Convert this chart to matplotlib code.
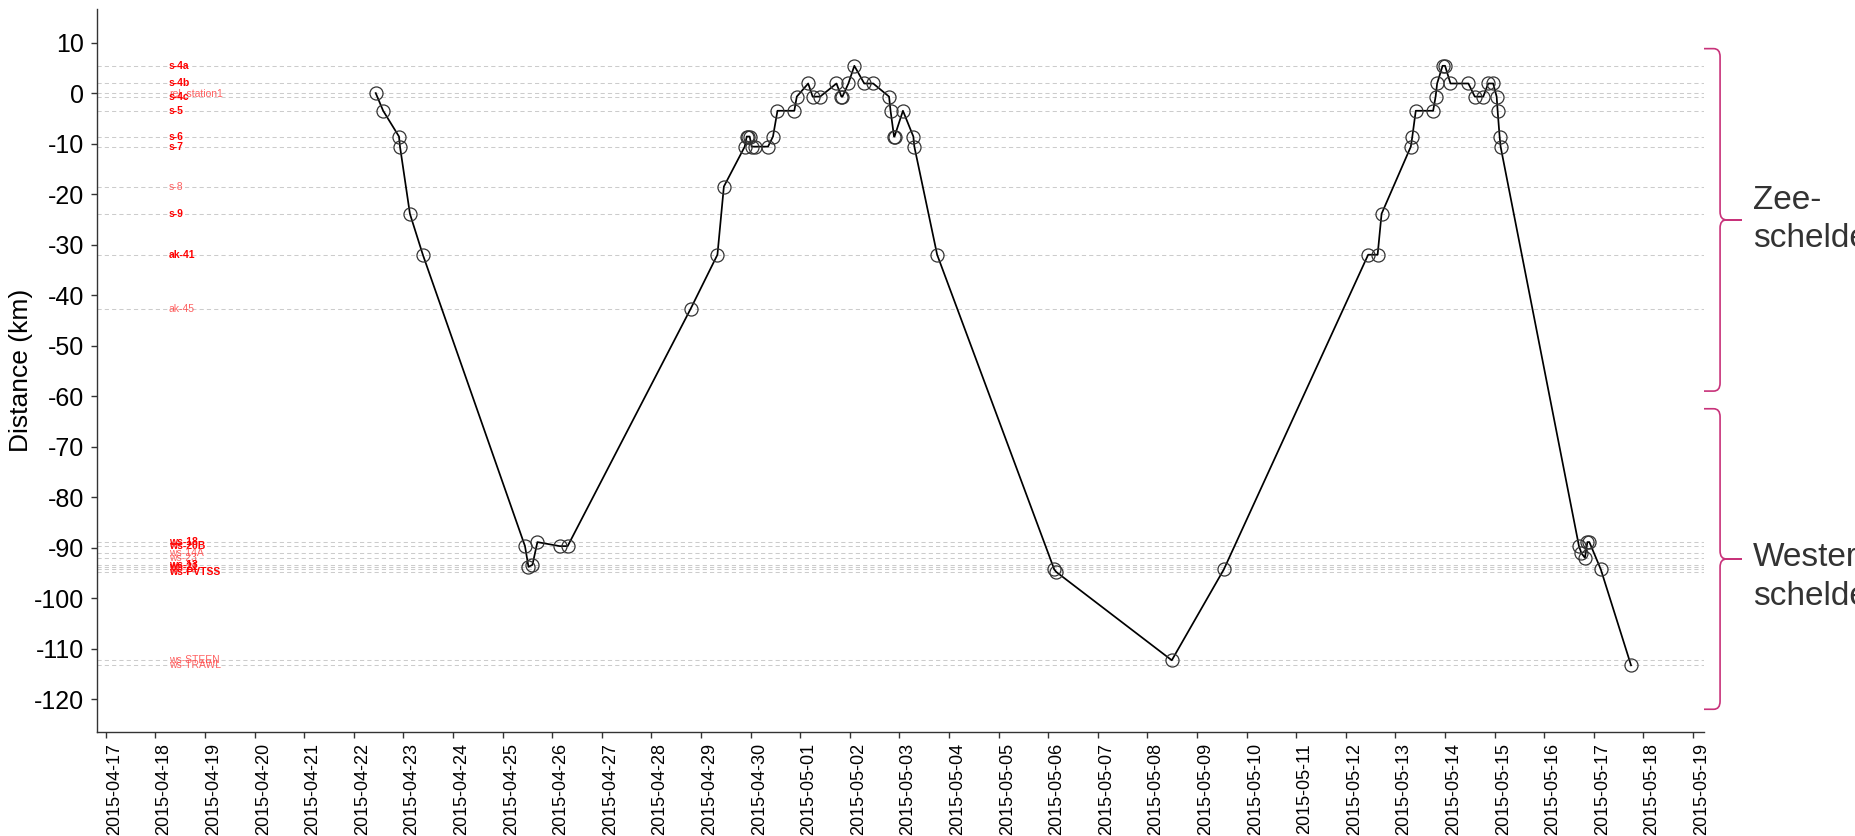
import numpy as np
import pandas as pd
import matplotlib
matplotlib.use('Agg')
from matplotlib import pyplot as plt
import matplotlib.dates as mdates
from matplotlib.path import Path
from matplotlib.patches import PathPatch
from matplotlib import transforms

plt.rcParams['font.family'] = ['Liberation Sans', 'DejaVu Sans']
plt.rcParams['axes.unicode_minus'] = False

# receiver stations and their distance (km) along the river
stations = ['s-4a', 's-4b', 'rel_station1', 's-4c', 's-5', 's-6', 's-7', 's-8', 's-9',
            'ak-41', 'ak-45', 'ws-18', 'ws-20B', 'ws-14A', 'ws-23', 'ws-13', 'ws-21',
            'ws-22', 'ws-PVTSS', 'ws-STEEN', 'ws-TRAWL']
station_km = [5.4, 1.9, 0.0, -0.7, -3.5, -8.6, -10.6, -18.5, -23.9,
              -32.0, -42.7, -88.9, -89.7, -91.1, -92.0, -93.4, -93.8,
              -94.3, -94.8, -112.3, -113.3]
# stations with few detections (label drawn lighter)
faint = ['rel_station1', 's-8', 'ak-45', 'ws-14A', 'ws-23', 'ws-22', 'ws-STEEN', 'ws-TRAWL']
label_time = '2015-04-18 06:30'

# detections of the tagged fish
det_time = ['2015-04-22 10:34', '2015-04-22 14:10', '2015-04-22 21:50', '2015-04-22 22:19',
            '2015-04-23 03:07', '2015-04-23 09:22', '2015-04-25 10:48', '2015-04-25 12:29',
            '2015-04-25 14:24', '2015-04-25 16:48', '2015-04-26 03:36', '2015-04-26 07:26',
            '2015-04-28 18:58', '2015-04-29 07:55', '2015-04-29 11:02', '2015-04-29 21:07',
            '2015-04-29 22:05', '2015-04-29 22:50', '2015-04-29 23:31', '2015-04-30 00:29',
            '2015-04-30 01:55', '2015-04-30 08:24', '2015-04-30 10:48', '2015-04-30 12:58',
            '2015-04-30 21:07', '2015-04-30 22:19', '2015-05-01 03:50', '2015-05-01 06:00',
            '2015-05-01 09:36', '2015-05-01 17:31', '2015-05-01 19:55', '2015-05-01 20:24',
            '2015-05-01 23:17', '2015-05-02 02:10', '2015-05-02 06:58', '2015-05-02 11:17',
            '2015-05-02 18:58', '2015-05-02 19:41', '2015-05-02 21:22', '2015-05-02 21:36',
            '2015-05-03 01:41', '2015-05-03 06:43', '2015-05-03 07:12', '2015-05-03 18:14',
            '2015-05-06 02:53', '2015-05-06 03:50', '2015-05-08 11:46', '2015-05-09 12:58',
            '2015-05-12 10:48', '2015-05-12 15:22', '2015-05-12 17:17', '2015-05-13 07:26',
            '2015-05-13 08:10', '2015-05-13 09:50', '2015-05-13 18:14', '2015-05-13 19:26',
            '2015-05-13 20:10', '2015-05-13 22:48', '2015-05-14 00:00', '2015-05-14 02:38',
            '2015-05-14 11:17', '2015-05-14 14:24', '2015-05-14 18:29', '2015-05-14 20:53',
            '2015-05-14 23:17', '2015-05-15 00:58', '2015-05-15 01:26', '2015-05-15 02:24',
            '2015-05-15 02:53', '2015-05-16 16:48', '2015-05-16 18:00', '2015-05-16 19:41',
            '2015-05-16 20:53', '2015-05-16 21:50', '2015-05-17 03:22', '2015-05-17 18:00']
det_km = [0.0, -3.5, -8.6, -10.6,
          -23.9, -32.0, -89.7, -93.8,
          -93.4, -88.9, -89.7, -89.7,
          -42.7, -32.0, -18.5, -10.6,
          -8.6, -8.6, -8.6, -10.6,
          -10.6, -10.6, -8.6, -3.5,
          -3.5, -0.7, 1.9, -0.7,
          -0.7, 1.9, -0.7, -0.7,
          1.9, 5.4, 1.9, 1.9,
          -0.7, -3.5, -8.6, -8.6,
          -3.5, -8.6, -10.6, -32.0,
          -94.3, -94.8, -112.3, -94.3,
          -32.0, -32.0, -23.9, -10.6,
          -8.6, -3.5, -3.5, -0.7,
          1.9, 5.4, 5.4, 1.9,
          1.9, -0.7, -0.7, 1.9,
          1.9, -0.7, -3.5, -8.6,
          -10.6, -89.7, -91.1, -92.0,
          -88.9, -88.9, -94.3, -113.3]

# river zones shown with braces on the right
zones = ['Zee-\nschelde', 'Wester-\nschelde']
zone_top = [8.8, -62.5]
zone_bottom = [-59.0, -122.0]
zone_label_km = [-25.1, -95.8]

t = pd.to_datetime(det_time)
order = np.argsort(t.values)
t = t[order]
km = np.array(det_km)[order]

fig = plt.figure(figsize=(18.56, 8.36), dpi=100)
ax = fig.add_axes([97 / 1856, 1 - 732 / 836, 1607 / 1856, (732 - 9.5) / 836])

for name, d in zip(stations, station_km):
    ax.axhline(d, color='#cccccc', lw=0.75, ls=(0, (4, 3)), zorder=1)
    if name in faint:
        ax.text(pd.Timestamp(label_time), d, name, color='#ff3b3b', alpha=0.8,
                fontsize=7.5, ha='left', va='center', zorder=2)
    else:
        ax.text(pd.Timestamp(label_time), d, name, color='#ff0000', fontweight='bold',
                fontsize=7.5, ha='left', va='center', zorder=2)

ax.plot(t, km, color='black', lw=1.25, zorder=3)
ax.plot(t, km, ls='none', marker='o', ms=9.4, mfc='none', mec='#333333', mew=0.9, zorder=4)

x0 = pd.Timestamp('2015-04-17') - pd.Timedelta(hours=4.3)
x1 = pd.Timestamp('2015-05-19') + pd.Timedelta(hours=5.3)
ax.set_xlim(x0, x1)
ax.set_ylim(-126.5, 16.55)

ax.xaxis.set_major_locator(mdates.DayLocator())
ax.xaxis.set_major_formatter(mdates.DateFormatter('%Y-%m-%d'))
ax.set_yticks(np.arange(-120, 11, 10))
ax.tick_params(axis='y', labelsize=18, length=4, width=1, color='#333333', pad=5)
ax.tick_params(axis='x', labelsize=13, length=4, width=1, color='#333333', pad=4)
for lab in ax.get_xticklabels():
    lab.set_rotation(90)
    lab.set_ha('left')
    lab.set_va('top')

for side in ['top', 'right']:
    ax.spines[side].set_visible(False)
for side in ['left', 'bottom']:
    ax.spines[side].set_color('#333333')
    ax.spines[side].set_linewidth(1.0)

ax.set_ylabel('Distance (km)', fontsize=19)
ax.yaxis.set_label_coords(-0.04, 0.5)

# braces for river zones
trans = transforms.blended_transform_factory(ax.transAxes, ax.transData)
xs, xv, xt = 1.0, 1.0100, 1.0236
r, dx = 1.6, 0.004
for name, top, bot, ym in zip(zones, zone_top, zone_bottom, zone_label_km):
    mid = (top + bot) / 2
    verts = [(xs, top), (xv - dx, top), (xv, top), (xv, top - r),
             (xv, mid + r), (xv, mid), (xv + dx, mid), (xt, mid),
             (xv + dx, mid), (xv, mid), (xv, mid - r),
             (xv, bot + r), (xv, bot), (xv - dx, bot), (xs, bot)]
    codes = [Path.MOVETO, Path.LINETO, Path.CURVE3, Path.CURVE3,
             Path.LINETO, Path.CURVE3, Path.CURVE3, Path.LINETO,
             Path.LINETO, Path.CURVE3, Path.CURVE3,
             Path.LINETO, Path.CURVE3, Path.CURVE3, Path.LINETO]
    patch = PathPatch(Path(verts, codes), fill=False, edgecolor='#c8327a', lw=1.2,
                      transform=trans, clip_on=False)
    ax.add_patch(patch)
    ax.text(1.0305, ym, name, transform=trans, fontsize=24, color='#333333',
            ha='left', va='center', linespacing=1.3, clip_on=False)

fig.savefig('out.png', dpi=100, facecolor='white')
